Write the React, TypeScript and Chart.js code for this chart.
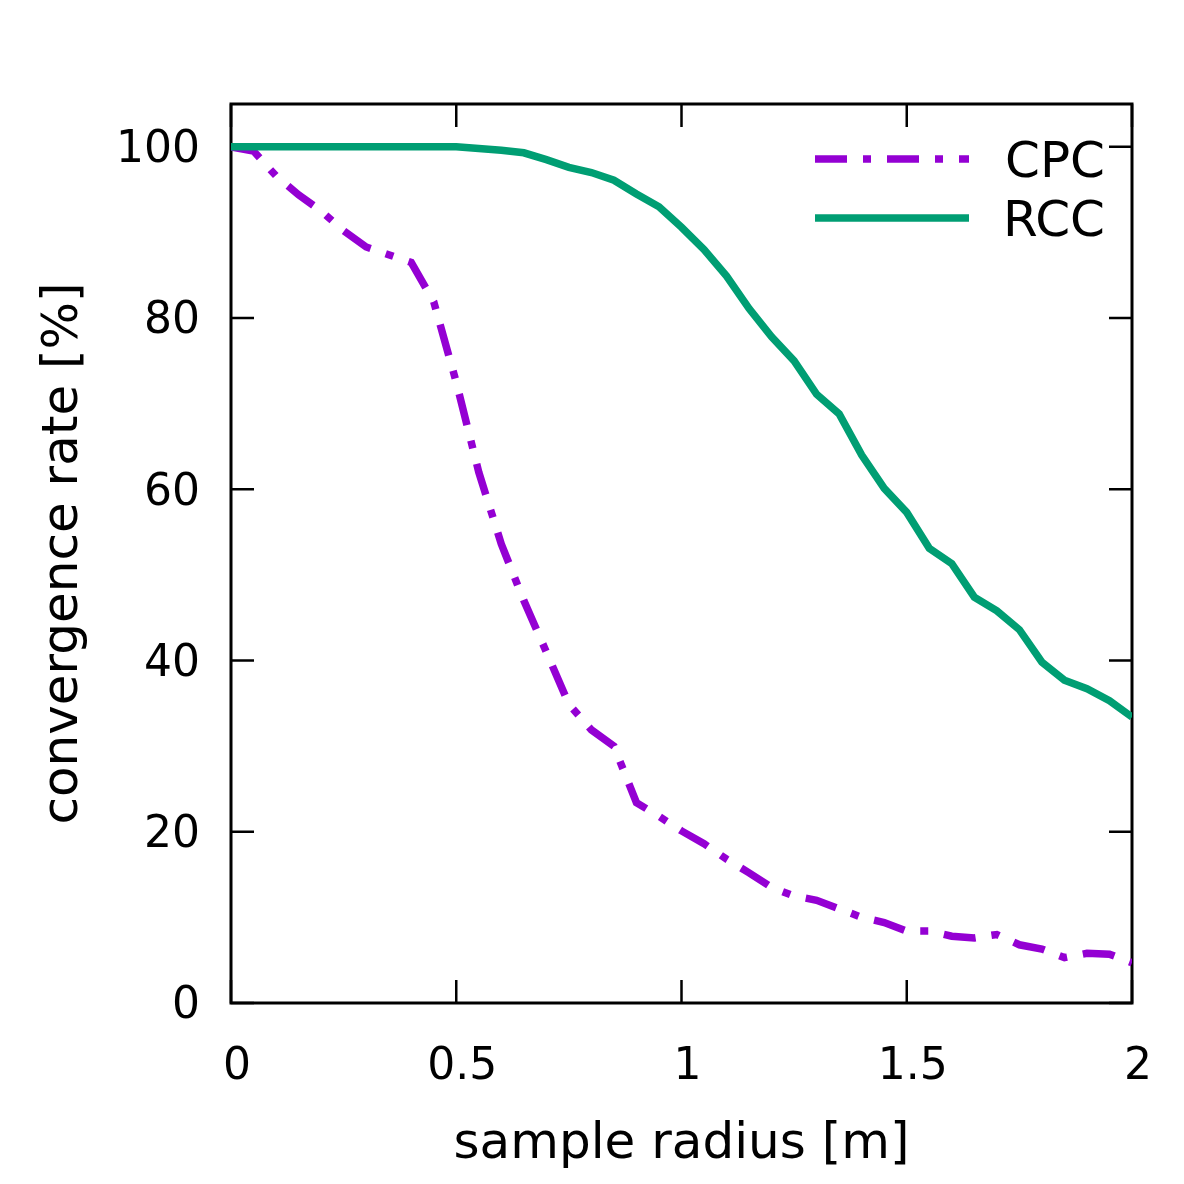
import React, { useEffect, useRef } from "react";
import { Chart, registerables } from "chart.js";

Chart.register(...registerables);

const FONT = "DejaVu Sans";

const radius = [
  0, 0.05, 0.1, 0.15, 0.2, 0.25, 0.3, 0.35, 0.4, 0.45, 0.5, 0.55, 0.6, 0.65, 0.7, 0.75, 0.8, 0.85, 0.9, 0.95,
  1.0, 1.05, 1.1, 1.15, 1.2, 1.25, 1.3, 1.35, 1.4, 1.45, 1.5, 1.55, 1.6, 1.65, 1.7, 1.75, 1.8, 1.85, 1.9, 1.95, 2.0,
];

const cpcRate = [
  100, 99.5, 96.6, 94.4, 92.5, 90.2, 88.3, 87.4, 86.5, 81.9, 72.5, 62, 53.6, 47, 41, 34.9, 31.9, 30, 23.4, 21.8,
  20.1, 18.6, 16.8, 15.2, 13.5, 12.5, 12, 11, 10, 9.4, 8.4, 8.4, 7.8, 7.6, 8, 6.8, 6.3, 5.3, 5.8, 5.7, 4.7,
];

const rccRate = [
  100, 100, 100, 100, 100, 100, 100, 100, 100, 100, 100, 99.8, 99.6, 99.3, 98.5, 97.6, 97, 96.1, 94.5, 93,
  90.6, 88, 84.9, 81.1, 77.8, 75, 71.1, 68.8, 64, 60.1, 57.3, 53.1, 51.3, 47.4, 45.8, 43.6, 39.8, 37.7, 36.7, 35.3, 33.4,
];

const seriesNames = ["CPC", "RCC"];
const seriesColors = ["#9400D3", "#009E73"];
const xTickValues = [0, 0.5, 1, 1.5, 2];
const yTickValues = [0, 20, 40, 60, 80, 100];
const xTitle = "sample radius [m]";
const yTitle = "convergence rate [%]";

const framePlugin = {
  id: "gnuFrame",
  beforeDatasetsDraw(chart: any) {
    const { ctx, chartArea, scales } = chart;
    const { left, right, top, bottom } = chartArea;
    const tl = 23;
    ctx.save();
    ctx.strokeStyle = "#000";
    ctx.lineWidth = 2.5;
    ctx.lineCap = "butt";
    ctx.beginPath();
    for (const v of xTickValues) {
      const px = scales.x.getPixelForValue(v);
      ctx.moveTo(px, bottom);
      ctx.lineTo(px, bottom - tl);
      ctx.moveTo(px, top);
      ctx.lineTo(px, top + tl);
    }
    for (const v of yTickValues) {
      const py = scales.y.getPixelForValue(v);
      ctx.moveTo(left, py);
      ctx.lineTo(left + tl, py);
      ctx.moveTo(right, py);
      ctx.lineTo(right - tl, py);
    }
    ctx.stroke();
    ctx.lineWidth = 3;
    ctx.strokeRect(left, top, right - left, bottom - top);
    ctx.restore();
  },
  afterDraw(chart: any) {
    const { ctx, chartArea } = chart;
    const { right, top } = chartArea;
    ctx.save();
    chart.data.datasets.forEach((ds: any, i: number) => {
      const y = top + 55 + i * 59;
      ctx.beginPath();
      ctx.strokeStyle = ds.borderColor;
      ctx.lineWidth = ds.borderWidth;
      ctx.lineCap = "butt";
      ctx.setLineDash(ds.borderDash || []);
      ctx.moveTo(right - 317, y);
      ctx.lineTo(right - 163, y);
      ctx.stroke();
      ctx.setLineDash([]);
      ctx.fillStyle = "#000";
      ctx.font = `50px "${FONT}"`;
      ctx.textAlign = "right";
      ctx.textBaseline = "alphabetic";
      ctx.fillText(ds.label, right - 27, y + 17.5);
    });
    ctx.restore();
  },
};

export default function App() {
  const canvasRef = useRef<HTMLCanvasElement | null>(null);

  useEffect(() => {
    document.body.style.margin = "0";
    const canvas = canvasRef.current;
    if (!canvas) return;
    const chart = new Chart(canvas, {
      type: "line",
      data: {
        datasets: [
          {
            label: seriesNames[0],
            data: radius.map((x, i) => ({ x, y: cpcRate[i] })),
            borderColor: seriesColors[0],
            borderWidth: 7.5,
            borderDash: [32, 16, 8, 16],
            borderCapStyle: "butt",
            borderJoinStyle: "miter",
            pointRadius: 0,
            fill: false,
            tension: 0,
            order: 1,
          },
          {
            label: seriesNames[1],
            data: radius.map((x, i) => ({ x, y: rccRate[i] })),
            borderColor: seriesColors[1],
            borderWidth: 7.5,
            borderCapStyle: "butt",
            borderJoinStyle: "miter",
            pointRadius: 0,
            fill: false,
            tension: 0,
            order: 0,
          },
        ],
      },
      options: {
        responsive: false,
        animation: false,
        devicePixelRatio: 1,
        layout: { padding: { top: 104, right: 48, left: 0, bottom: 0 } },
        plugins: { legend: { display: false }, tooltip: { enabled: false } },
        scales: {
          x: {
            type: "linear",
            min: 0,
            max: 2,
            afterBuildTicks: (s: any) => {
              s.ticks = xTickValues.map((v) => ({ value: v }));
            },
            afterFit: (s: any) => {
              s.height = 181;
            },
            grid: { display: false, drawTicks: false },
            border: { display: false },
            ticks: {
              padding: 38,
              labelOffset: 6,
              color: "#000",
              autoSkip: false,
              maxRotation: 0,
              font: { family: FONT, size: 44 },
              callback: (v: any) => String(v),
            },
            title: {
              display: true,
              text: xTitle,
              color: "#000",
              font: { family: FONT, size: 50 },
              padding: { top: 0, bottom: 9 },
            },
          },
          y: {
            type: "linear",
            min: 0,
            max: 105,
            afterBuildTicks: (s: any) => {
              s.ticks = yTickValues.map((v) => ({ value: v }));
            },
            afterFit: (s: any) => {
              s.width = 231;
            },
            grid: { display: false, drawTicks: false },
            border: { display: false },
            ticks: {
              padding: 31,
              labelOffset: 4,
              color: "#000",
              autoSkip: false,
              font: { family: FONT, size: 44 },
              callback: (v: any) => String(v),
            },
            title: {
              display: true,
              text: yTitle,
              color: "#000",
              font: { family: FONT, size: 50 },
              padding: { top: 34, bottom: 0 },
            },
          },
        },
      },
      plugins: [framePlugin],
    } as any);
    return () => chart.destroy();
  }, []);

  return (
    <div style={{ width: 1184, height: 1184, background: "#fff" }}>
      <canvas ref={canvasRef} width={1184} height={1184} style={{ display: "block", width: 1184, height: 1184 }} />
    </div>
  );
}
